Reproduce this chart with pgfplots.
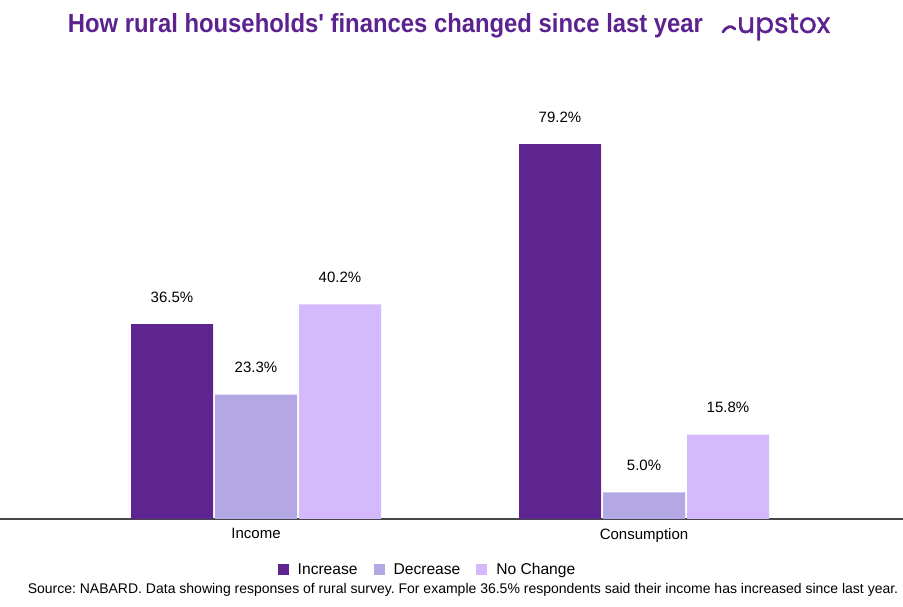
\documentclass[border=0pt]{standalone}
\usepackage{pgfplots}
\pgfplotsset{compat=1.18}
\usepackage{fontspec}
\setmainfont{Liberation Sans}
\newfontfamily\titlefont{Liberation Sans}[Ligatures=NoCommon]
\newfontfamily\logofont{Poppins}[FakeBold=1.2]
\definecolor{inc}{HTML}{5E2490}
\definecolor{dec}{HTML}{B3A8E3}
\definecolor{noch}{HTML}{D4BAFD}
\definecolor{titlec}{HTML}{5B2290}
\begin{document}
\frenchspacing
\begin{tikzpicture}[x=1pt,y=1pt]
\useasboundingbox (0,-88) rectangle (903,519);
\begin{axis}[
  at={(0,0)}, anchor=south west,
  scale only axis, width=903pt, height=419pt,
  xmin=-0.6598, xmax=1.6675, ymin=0, ymax=78.46,
  hide y axis,
  axis x line*=bottom,
  x axis line style={-, color=black!72, line width=1.2pt},
  xtick={0,1}, xticklabels={Income,Consumption},
  major tick length=0pt,
  xticklabel style={font=\fontsize{15}{18}\selectfont, yshift=-6pt},
  ybar=2pt, bar width=82pt,
  nodes near coords, point meta=explicit symbolic,
  every node near coord/.append style={font=\fontsize{15}{18}\selectfont, anchor=south, yshift=18pt},
  clip=false,
  legend columns=3,
  legend style={at={(0.5,0)}, anchor=center, xshift=-24pt, yshift=-51pt, draw=none,
    font=\fontsize{15.6}{18}\selectfont,
    /tikz/every odd column/.append style={column sep=7pt},
    /tikz/every even column/.append style={column sep=14pt}},
  legend image code/.code={\fill[#1] (0pt,-5.5pt) rectangle (11pt,5.5pt);},
]
\addplot[fill=inc, draw=none] coordinates {(0,36.5) [36.5\%] (1,70.2) [79.2\%]};
\addplot[fill=dec, draw=none] coordinates {(0,23.3) [23.3\%] (1,5.0) [5.0\%]};
\addplot[fill=noch, draw=none] coordinates {(0,40.2) [40.2\%] (1,15.8) [15.8\%]};
\legend{Increase, Decrease, No Change}
\end{axis}
\node[anchor=base, text=titlec] at (385.5,486) {\resizebox{635pt}{19pt}{\bfseries How rural households\textquotesingle\ finances changed since last year}};
\draw[titlec, line width=2.8pt, line cap=round] (723,487) .. controls (727,493) and (731,494) .. (735,490);
\node[anchor=base west, text=titlec, inner sep=0pt] at (737,486) {\resizebox{93pt}{!}{\logofont\fontsize{30}{30}\selectfont upstox}};
\node[font=\fontsize{14}{16}\selectfont] at (463,-71) {Source: NABARD. Data showing responses of rural survey. For example 36.5\% respondents said their income has increased since last year.};
\end{tikzpicture}
\end{document}
